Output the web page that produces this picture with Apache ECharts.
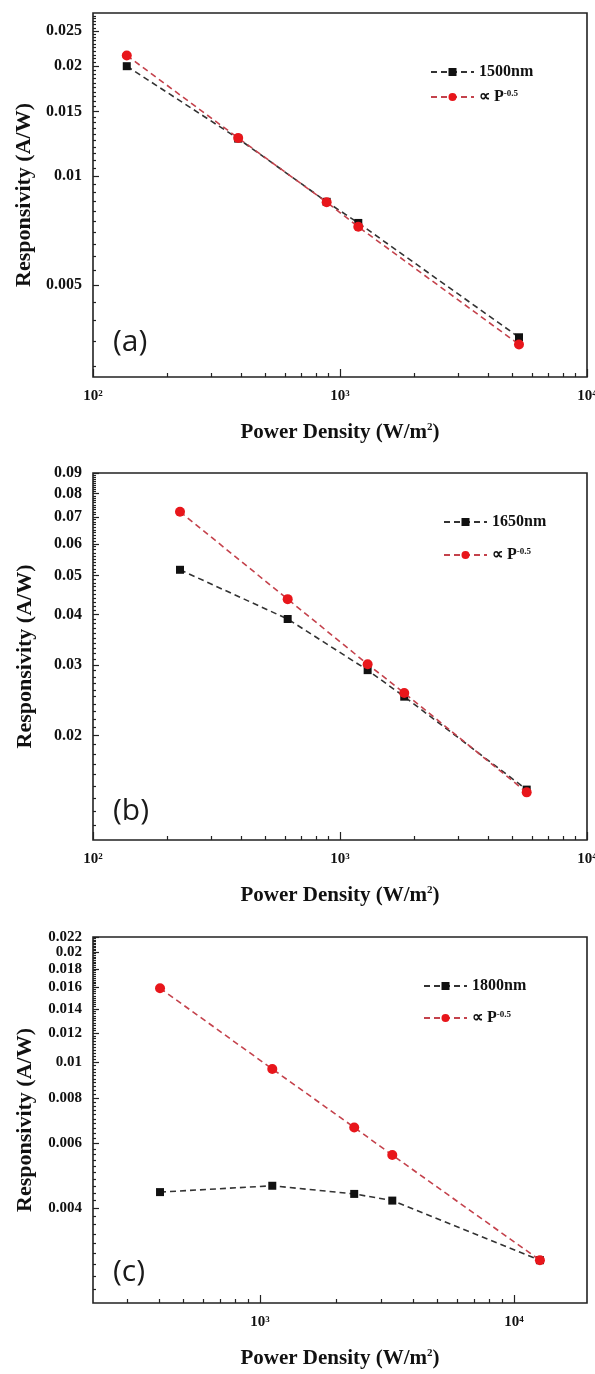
<!DOCTYPE html>
<html><head><meta charset="utf-8">
<script src="https://cdn.jsdelivr.net/npm/echarts@6/dist/echarts.min.js"></script>
<style>html,body{margin:0;padding:0;background:#fff}#c{width:595px;height:1374px}</style>
</head><body><div id="c"></div>
<script>
// ---------- data ----------
const aPower = [137, 387, 883, 1186, 5305];
const a1500  = [0.0200, 0.01265, 0.00848, 0.00742, 0.00360];
const aFit   = [0.0214, 0.0127, 0.00846, 0.00724, 0.00344];

const bPower = [225, 614, 1294, 1820, 5700];
const b1650  = [0.0517, 0.0390, 0.0291, 0.0250, 0.01468];
const bFit   = [0.0721, 0.0437, 0.0301, 0.02553, 0.01445];

const cPower = [404, 1118, 2350, 3319, 12660];
const c1800  = [0.00442, 0.00460, 0.00437, 0.00419, 0.00288];
const cFit   = [0.01594, 0.00959, 0.00664, 0.00558, 0.00288];

const aXRange = [100, 10000],  aYRange = [0.0028, 0.028];
const bXRange = [100, 10000],  bYRange = [0.011, 0.09];
const cXRange = [220, 19400],  cYRange = [0.0022, 0.022];

const aXTicks = [100, 1000, 10000];
const bXTicks = [100, 1000, 10000];
const cXTicks = [1000, 10000];

const aYTicks = [0.005, 0.01, 0.015, 0.02, 0.025];
const aYLabels = ['0.005', '0.01', '0.015', '0.02', '0.025'];
const bYTicks = [0.02, 0.03, 0.04, 0.05, 0.06, 0.07, 0.08, 0.09];
const bYLabels = ['0.02', '0.03', '0.04', '0.05', '0.06', '0.07', '0.08', '0.09'];
const cYTicks = [0.004, 0.006, 0.008, 0.01, 0.012, 0.014, 0.016, 0.018, 0.02, 0.022];
const cYLabels = ['0.004', '0.006', '0.008', '0.01', '0.012', '0.014', '0.016', '0.018', '0.02', '0.022'];
const aYMinorStep = 0.0005, bYMinorStep = 0.001, cYMinorStep = 0.0002;

const measNames = ['1500nm', '1650nm', '1800nm'];
const fitLabel = '∝ P-0.5';
const tags = ['(a)', '(b)', '(c)'];

// ---------- layout / style ----------
const SERIF = "'Liberation Serif','Times New Roman',serif";
const layout = [
  {top: 13,  height: 364, legendLeft: 425, legendTop: 59,  legendGap: 9,  tagY: 342,  yFont: 16},
  {top: 473, height: 367, legendLeft: 438, legendTop: 509, legendGap: 17, tagY: 811,  yFont: 16},
  {top: 937, height: 366, legendLeft: 418, legendTop: 973, legendGap: 16, tagY: 1272, yFont: 15}
];
const panels = [
  {power: aPower, meas: a1500, fit: aFit, xr: aXRange, yr: aYRange, xt: aXTicks, yt: aYTicks, yl: aYLabels, ms: aYMinorStep},
  {power: bPower, meas: b1650, fit: bFit, xr: bXRange, yr: bYRange, xt: bXTicks, yt: bYTicks, yl: bYLabels, ms: bYMinorStep},
  {power: cPower, meas: c1800, fit: cFit, xr: cXRange, yr: cYRange, xt: cXTicks, yt: cYTicks, yl: cYLabels, ms: cYMinorStep}
];

const L = Math.log10;
const tickLine = {color: '#222', width: 1.2};

const grid = [], xAxis = [], yAxis = [], series = [], legend = [], graphic = [];

panels.forEach((p, i) => {
  const lay = layout[i];
  grid.push({left: 93, width: 494, top: lay.top, height: lay.height, show: true,
    borderColor: '#222', borderWidth: 1.6, backgroundColor: 'transparent', containLabel: false, outerBoundsMode: 'none'});

  // x minor ticks: 2..9 x decade within range
  const xMinor = [];
  for (let e = Math.floor(L(p.xr[0])); e <= Math.ceil(L(p.xr[1])); e++) {
    for (let m = 2; m <= 9; m++) {
      const v = m * Math.pow(10, e);
      if (v > p.xr[0] && v < p.xr[1]) xMinor.push(L(v));
    }
  }
  // y minor ticks: linear step on log axis
  const yMinor = [];
  for (let k = Math.ceil(p.yr[0] / p.ms - 1e-9); k * p.ms <= p.yr[1] + 1e-12; k++) {
    const v = +(k * p.ms).toFixed(6);
    if (!p.yt.some(t => Math.abs(t - v) < 1e-9) && v > p.yr[0] && v < p.yr[1]) yMinor.push(L(v));
  }

  const base = i * 3;
  // data axes (log)
  xAxis.push({type: 'log', logBase: 10, gridIndex: i, min: p.xr[0], max: p.xr[1], show: false});
  yAxis.push({type: 'log', logBase: 10, gridIndex: i, min: p.yr[0], max: p.yr[1], show: false});
  // major tick/label axes
  xAxis.push({type: 'value', gridIndex: i, position: 'bottom', min: L(p.xr[0]), max: L(p.xr[1]),
    axisLine: {show: false}, splitLine: {show: false},
    axisTick: {show: true, inside: true, length: 8, lineStyle: tickLine, customValues: p.xt.map(L)},
    axisLabel: {show: true, margin: 12, showMinLabel: true, showMaxLabel: true, hideOverlap: false,
      customValues: p.xt.map(L),
      formatter: v => '{b|10}{s|' + Math.round(v) + '}',
      rich: {b: {fontFamily: SERIF, fontWeight: 'bold', fontSize: 15, color: '#111'},
             s: {fontFamily: SERIF, fontWeight: 'bold', fontSize: 9, color: '#111', verticalAlign: 'top', lineHeight: 10}}},
    name: '{t|Power Density (W/m}{s|2}{t|)}', nameLocation: 'middle', nameGap: 45,
    nameTextStyle: {rich: {t: {fontFamily: SERIF, fontWeight: 'bold', fontSize: 21, color: '#111'},
                           s: {fontFamily: SERIF, fontWeight: 'bold', fontSize: 11, color: '#111', verticalAlign: 'top', lineHeight: 12}}}
  });
  yAxis.push({type: 'value', gridIndex: i, position: 'left', min: L(p.yr[0]), max: L(p.yr[1]),
    axisLine: {show: false}, splitLine: {show: false},
    axisTick: {show: true, inside: true, length: 6, lineStyle: tickLine, customValues: p.yt.map(L)},
    axisLabel: {show: true, margin: 11, showMinLabel: true, showMaxLabel: true, hideOverlap: false,
      customValues: p.yt.map(L),
      formatter: v => { const k = p.yt.findIndex(t => Math.abs(L(t) - v) < 1e-6); return k >= 0 ? p.yl[k] : ''; },
      fontFamily: SERIF, fontWeight: 'bold', fontSize: lay.yFont, lineHeight: 11, color: '#111'},
    name: 'Responsivity (A/W)', nameLocation: 'middle', nameGap: 57, nameRotate: 90,
    nameTextStyle: {fontFamily: SERIF, fontWeight: 'bold', fontSize: 22, color: '#111'}
  });
  // minor tick axes
  xAxis.push({type: 'value', gridIndex: i, position: 'bottom', min: L(p.xr[0]), max: L(p.xr[1]),
    axisLine: {show: false}, splitLine: {show: false}, axisLabel: {show: false},
    axisTick: {show: true, inside: true, length: 4, lineStyle: tickLine, customValues: xMinor}});
  yAxis.push({type: 'value', gridIndex: i, position: 'left', min: L(p.yr[0]), max: L(p.yr[1]),
    axisLine: {show: false}, splitLine: {show: false}, axisLabel: {show: false},
    axisTick: {show: true, inside: true, length: 3, lineStyle: tickLine, customValues: yMinor}});

  const fitName = fitLabel + ' (' + measNames[i] + ')';
  series.push({type: 'line', name: measNames[i], xAxisIndex: base, yAxisIndex: base,
    data: p.power.map((x, k) => [x, p.meas[k]]),
    symbol: 'rect', symbolSize: 8, itemStyle: {color: '#111'},
    lineStyle: {color: '#333', width: 1.6, type: [6, 4]}, z: 3, animation: false});
  series.push({type: 'line', name: fitName, xAxisIndex: base, yAxisIndex: base,
    data: p.power.map((x, k) => [x, p.fit[k]]),
    symbol: 'circle', symbolSize: 10, itemStyle: {color: '#e8161b'},
    lineStyle: {color: '#c4424c', width: 1.6, type: [6, 4]}, z: 4, animation: false});

  legend.push({data: [measNames[i], fitName], orient: 'vertical', left: lay.legendLeft, top: lay.legendTop,
    itemWidth: 43, itemHeight: 10, itemGap: lay.legendGap, selectedMode: false,
    formatter: n => n === fitName ? '{p|∝ P}{s|-0.5}' : n,
    textStyle: {fontFamily: SERIF, fontWeight: 'bold', fontSize: 16, color: '#111',
      rich: {p: {fontFamily: SERIF, fontWeight: 'bold', fontSize: 16, color: '#111'},
             s: {fontFamily: SERIF, fontWeight: 'bold', fontSize: 9, color: '#111', verticalAlign: 'top', lineHeight: 10}}}});

  graphic.push({type: 'text', x: 113, y: lay.tagY,
    style: {text: tags[i], fontFamily: "'Open Sans', sans-serif", fontSize: 30, fill: '#1a1a1a', verticalAlign: 'middle'}});
});

const chart = echarts.init(document.getElementById('c'), null, {renderer: 'canvas'});
chart.setOption({animation: false, backgroundColor: '#fff', grid, xAxis, yAxis, series, legend, graphic});
</script></body></html>
